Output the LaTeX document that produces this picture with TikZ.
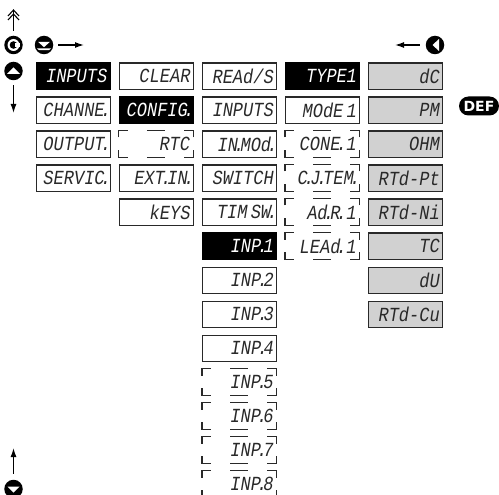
\documentclass[tikz,border=0pt]{standalone}
\usepackage{fontspec}
\newfontfamily\dispfont[FakeStretch=0.85]{Liberation Mono}
\newfontfamily\deffont{DejaVu Sans}
\usetikzlibrary{arrows.meta,calc}
\definecolor{boxgray}{gray}{0.82}
\definecolor{inkc}{gray}{0.16}
\def\dt{\kern-3.8pt.\kern-3.8pt\relax}
\def\nsp{\ \kern-7pt\relax}
\def\hsp{\ \kern-3.5pt\relax}
\tikzset{
  disp/.style={minimum width=74pt,minimum height=26.5pt,inner sep=0pt,text width=68.5pt,align=right,
    font=\dispfont\itshape\fontsize{20pt}{20pt}\selectfont,text=inkc,anchor=north west},
  plainbox/.style={disp,draw=inkc,line width=1.1pt},
  blackbox/.style={disp,draw=black,fill=black,line width=1.1pt,text=white},
  graybox/.style={disp,draw=inkc,fill=boxgray,line width=1.1pt},
  dashbox/.style={disp},
  dashpart/.style={draw=inkc,line width=1.1pt},
  btn/.style={circle,fill=black,minimum size=18.5pt,inner sep=0pt},
  move/.style={draw=black,line width=1.3pt,-{Latex[length=9pt,width=6pt]}},
}
\newcommand{\plain}[4]{\node[plainbox] (#1) at (#2,#3) {#4};}
\newcommand{\blk}[4]{\node[blackbox] (#1) at (#2,#3) {#4};}
\newcommand{\gry}[4]{\node[graybox] (#1) at (#2,#3) {#4};}
\newcommand{\dsh}[4]{\node[dashbox] (#1) at (#2,#3) {#4};
  \draw[dashpart] ($(#1.north west)+(0,7)$) -- (#1.north west) -- ++(9,0);
  \draw[dashpart] ($(#1.north east)+(0,7)$) -- (#1.north east) -- ++(-9,0);
  \draw[dashpart] ($(#1.south west)+(0,-7)$) -- (#1.south west) -- ++(9,0);
  \draw[dashpart] ($(#1.south east)+(0,-7)$) -- (#1.south east) -- ++(-9,0);
  \draw[dashpart] ($(#1.north)+(-9,0)$) -- ($(#1.north)+(9,0)$);
  \draw[dashpart] ($(#1.south)+(-9,0)$) -- ($(#1.south)+(9,0)$);}
\begin{document}
\begin{tikzpicture}[x=1pt,y=-1pt]
\useasboundingbox (0,0) rectangle (499,495);
% column 1
\blk{a1}{35.5}{62.5}{INPUTS}
\plain{a2}{35.5}{96.5}{CHANNE\dt}
\plain{a3}{35.5}{130.5}{OUTPUT\dt}
\plain{a4}{35.5}{164.5}{SERVIC\dt}
% column 2
\plain{b1}{118.7}{62.5}{CLEAR}
\blk{b2}{118.7}{96.5}{CONFIG\dt}
\dsh{b3}{118.7}{130.5}{RTC}
\plain{b4}{118.7}{164.5}{EXT\dt IN\dt}
\plain{b5}{118.7}{198.5}{kEYS}
% column 3
\plain{c1}{202}{62.5}{REAd/S}
\plain{c2}{202}{96.5}{INPUTS}
\plain{c3}{202}{130.5}{IN\dt MOd\dt}
\plain{c4}{202}{164.5}{SWITCH}
\plain{c5}{202}{198.5}{TIM\hsp SW\dt}
\blk{c6}{202}{232.5}{INP\dt\nsp 1}
\plain{c7}{202}{266.5}{INP\dt\nsp 2}
\plain{c8}{202}{300.5}{INP\dt\nsp 3}
\plain{c9}{202}{334.5}{INP\dt\nsp 4}
\dsh{c10}{202}{368.5}{INP\dt\nsp 5}
\dsh{c11}{202}{402.5}{INP\dt\nsp 6}
\dsh{c12}{202}{436.5}{INP\dt\nsp 7}
\dsh{c13}{202}{470.5}{INP\dt\nsp 8}
% column 4
\blk{d1}{285}{62.5}{TYPE\nsp 1}
\plain{d2}{285}{96.5}{MOdE\hsp 1}
\dsh{d3}{285}{130.5}{CONE\dt\hsp 1}
\dsh{d4}{285}{164.5}{C\dt J\dt TEM\dt}
\dsh{d5}{285}{198.5}{Ad\dt R\dt\hsp 1}
\dsh{d6}{285}{232.5}{LEAd\dt\hsp 1}
% column 5
\gry{e1}{368}{62.5}{dC}
\gry{e2}{368}{96.5}{PM}
\gry{e3}{368}{130.5}{OHM}
\gry{e4}{368}{164.5}{RTd-Pt}
\gry{e5}{368}{198.5}{RTd-Ni}
\gry{e6}{368}{232.5}{TC}
\gry{e7}{368}{266.5}{dU}
\gry{e8}{368}{300.5}{RTd-Cu}
% buttons
\node[btn] (bC) at (13.5,45) {};
\fill[white] (bC) circle (6pt);
\fill[black] (bC) circle (3.8pt);
\fill[white] ($(bC)+(1,-1.6)$) rectangle ($(bC)+(6.5,1.6)$);
\node[btn] (bD) at (44,45) {};
\fill[white] ($(bD)+(-6,-3.2)$) -- ($(bD)+(6,-3.2)$) -- ($(bD)+(0,2.2)$) -- cycle;
\fill[white] ($(bD)+(-7,3.4)$) -- ($(bD)+(7,3.4)$) -- ($(bD)+(5,5.2)$) -- ($(bD)+(-5,5.2)$) -- cycle;
\node[btn] (bU) at (13.5,71) {};
\fill[white] ($(bU)+(-6.5,3)$) -- ($(bU)+(6.5,3)$) -- ($(bU)+(0,-3.5)$) -- cycle;
\node[btn] (bL) at (435,45) {};
\fill[white] ($(bL)+(4,-6)$) -- ($(bL)+(4,6)$) -- ($(bL)+(-2.5,0)$) -- cycle;
\node[btn] (bB) at (13.5,489) {};
\fill[white] ($(bB)+(-6,-2.5)$) -- ($(bB)+(6,-2.5)$) -- ($(bB)+(0,3.5)$) -- cycle;
\node[fill=black,rounded corners=9.5pt,minimum width=40pt,minimum height=19pt,inner sep=0pt,text=white,
  font=\deffont\bfseries\fontsize{14pt}{14pt}\selectfont] (def) at (479,106) {DEF};
% arrow ends
\coordinate (tUU) at (13.5,10);
\coordinate (tD) at (13.5,113);
\coordinate (tR) at (84,45);
\coordinate (tL) at (395,45);
\coordinate (tU) at (13.5,448);
% arrows
\draw[draw=black,line width=1.3pt] ($(bC)+(0,-14)$) -- (tUU);
\draw[draw=black,line width=1.1pt] (8,20) -- (13.5,14) -- (19,20);
\draw[draw=black,line width=1.1pt] (8,16) -- (13.5,10) -- (19,16);
\draw[move] (bU.south)++(0,5) -- (tD);
\draw[move] (bD.east)++(5,0) -- (tR);
\draw[move] (bL.west)++(-6,0) -- (tL);
\draw[move] (bB.north)++(0,-6) -- (tU);
\end{tikzpicture}
\end{document}
